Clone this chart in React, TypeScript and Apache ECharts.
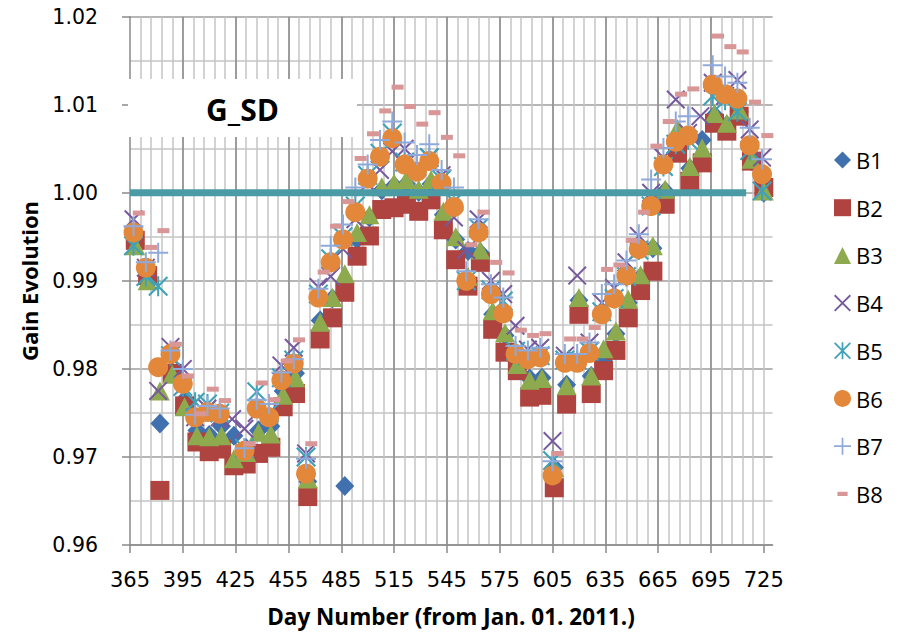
import React, { useEffect, useRef } from "react";
import * as echarts from "echarts";

// Sample days (B4–B7), B1–B3 (plotted one day later), B8 (plotted three days later)
const days = [367,374,381,388,395,402,409,416,423,430,437,444,451,458,465,472,479,486,493,500,507,514,521,528,535,542,549,556,563,570,577,584,591,598,605,612,619,626,633,640,647,654,661,668,675,682,689,696,703,710,717,724];
const daysB = [368,375,382,389,396,403,410,417,424,431,438,445,452,459,466,473,480,487,494,501,508,515,522,529,536,543,550,557,564,571,578,585,592,599,606,613,620,627,634,641,648,655,662,669,676,683,690,697,704,711,718,725];
const daysC = [370,377,384,391,398,405,412,419,426,433,440,447,454,461,468,475,482,489,496,503,510,517,524,531,538,545,552,559,566,573,580,587,594,601,608,615,622,629,636,643,650,657,664,671,678,685,692,699,706,713,720,727];

const b1 = [0.9942,0.9903,0.9738,0.9796,0.9765,0.9730,0.9725,0.9735,0.9724,0.9710,0.9730,0.9735,0.9775,0.9795,0.9672,0.9855,0.9880,0.9667,0.9947,0.9972,1.0003,1.0008,1.0010,1.0001,1.0010,0.9975,0.9947,0.9934,0.9932,0.9862,0.9838,0.9815,0.9789,0.9790,0.9688,0.9782,0.9878,0.9792,0.9809,0.9840,0.9875,0.9904,0.9937,1.0002,1.0065,1.0028,1.0060,1.0088,1.0077,1.0092,1.0036,1.0000];
const b2 = [0.9946,0.9906,0.9662,0.9795,0.9758,0.9717,0.9706,0.9709,0.9690,0.9692,0.9704,0.9711,0.9757,0.9772,0.9655,0.9834,0.9858,0.9887,0.9928,0.9951,0.9981,0.9983,0.9987,0.9979,0.9992,0.9958,0.9924,0.9894,0.9921,0.9845,0.9819,0.9798,0.9768,0.9770,0.9665,0.9760,0.9862,0.9772,0.9798,0.9821,0.9858,0.9889,0.9911,0.9987,1.0045,1.0013,1.0034,1.0079,1.0070,1.0087,1.0036,1.0006];
const b3 = [0.9940,0.9900,0.9775,0.9794,0.9757,0.9724,0.9723,0.9724,0.9698,0.9705,0.9728,0.9726,0.9770,0.9790,0.9675,0.9853,0.9881,0.9908,0.9955,0.9975,1.0007,1.0011,1.0015,1.0004,1.0015,0.9979,0.9950,0.9905,0.9935,0.9866,0.9841,0.9805,0.9787,0.9789,0.9688,0.9781,0.9881,0.9792,0.9823,0.9843,0.9879,0.9907,0.9940,1.0004,1.0073,1.0030,1.0051,1.0090,1.0079,1.0094,1.0038,1.0002];
const b4 = [0.9970,0.9915,0.9775,0.9825,0.9800,0.9745,0.9755,0.9745,0.9743,0.9732,0.9750,0.9750,0.9804,0.9824,0.9704,0.9893,0.9905,0.9936,0.9970,1.0010,1.0026,1.0047,1.0050,1.0030,1.0040,1.0020,0.9972,0.9935,0.9970,0.9900,0.9885,0.9849,0.9822,0.9824,0.9718,0.9815,0.9906,0.9830,0.9875,0.9892,0.9921,0.9951,1.0000,1.0040,1.0106,1.0068,1.0087,1.0125,1.0110,1.0128,1.0072,1.0040];
const b5 = [0.9940,0.9905,0.9894,0.9815,0.9780,0.9762,0.9760,0.9750,null,0.9710,0.9774,0.9750,0.9790,0.9810,0.9700,0.9885,0.9925,0.9950,0.9985,1.0020,1.0045,1.0068,1.0035,1.0030,1.0040,1.0015,0.9990,0.9900,0.9960,0.9890,0.9877,0.9820,0.9815,0.9815,0.9696,0.9810,0.9810,0.9820,0.9865,0.9880,0.9905,0.9935,0.9985,1.0030,1.0055,1.0060,null,1.0110,1.0105,1.0092,1.0048,1.0002];
const b6 = [0.9955,0.9915,0.9802,0.9817,0.9783,0.9745,0.9751,0.9749,null,0.9707,0.9755,0.9745,0.9787,0.9806,0.9681,0.9881,0.9921,0.9947,0.9978,1.0016,1.0041,1.0062,1.0032,1.0024,1.0036,1.0011,0.9984,0.9900,0.9955,0.9885,0.9863,0.9817,0.9811,0.9813,0.9679,0.9807,0.9807,0.9818,0.9862,0.9880,0.9906,0.9936,0.9985,1.0032,1.0058,1.0065,null,1.0123,1.0112,1.0107,1.0054,1.0021];
const b7 = [0.9962,0.9921,0.9932,0.9821,0.9800,0.9748,0.9758,0.9755,null,0.9710,0.9765,0.9760,0.9796,0.9811,0.9698,0.9891,0.9940,0.9964,1.0006,1.0032,1.0060,1.0081,1.0057,1.0043,1.0055,1.0026,1.0006,0.9911,0.9970,0.9896,0.9881,0.9826,0.9821,0.9824,0.9695,0.9817,0.9817,0.9830,0.9885,0.9896,0.9923,0.9953,1.0015,1.0051,1.0081,1.0087,null,1.0145,1.0132,1.0125,1.0074,1.0038];
const b8 = [0.9977,0.9938,0.9957,0.9828,0.9792,0.9749,0.9777,0.9764,null,0.9715,0.9784,0.9765,0.9809,0.9833,0.9715,0.9910,0.9962,0.9990,1.0039,1.0067,1.0093,1.0120,1.0098,1.0078,1.0091,1.0063,1.0042,0.9941,0.9978,0.9921,0.9909,0.9844,0.9838,0.9840,0.9704,0.9834,0.9834,0.9847,0.9913,0.9918,0.9946,0.9978,1.0053,1.0081,1.0112,1.0118,null,1.0178,1.0166,1.0160,1.0103,1.0065];

// Reference line at gain 1.00
const refDays = [365, 715];
const refValues = [1.0, 1.0];

const xTicks = [365,395,425,455,485,515,545,575,605,635,665,695,725];
const seriesNames = ["B1","B2","B3","B4","B5","B6","B7","B8"];

const PLUS = "path://M9,0H11V9H20V11H11V20H9V11H0V9H9Z";
const XPATH = "M0,1.5L1.5,0L10,8.5L18.5,0L20,1.5L11.5,10L20,18.5L18.5,20L10,11.5L1.5,20L0,18.5L8.5,10Z";
const XMARK = "path://" + XPATH;
const STAR = "path://" + XPATH + "M9,0H11V20H9Z";
const DASH_ICON = "path://M0,0M20,20M4,7.5H16V12.5H4Z";

function pairs(xs: number[], ys: (number | null)[]) {
  const out: number[][] = [];
  ys.forEach((y, i) => {
    if (y !== null) out.push([xs[i], y]);
  });
  return out;
}

export default function App() {
  const ref = useRef<HTMLDivElement>(null);
  useEffect(() => {
    if (!ref.current) return;
    const chart = echarts.init(ref.current, null, { renderer: "svg" });
    const markerDefs = [
      { x: daysB, y: b1, symbol: "diamond", size: [19, 20], color: "#4070AD" },
      { x: daysB, y: b2, symbol: "rect", size: [19, 19], color: "#AE4340" },
      { x: daysB, y: b3, symbol: "triangle", size: [20, 19], color: "#8DAA4E" },
      { x: days, y: b4, symbol: XMARK, size: [19, 19], color: "#76599E" },
      { x: days, y: b5, symbol: STAR, size: [20, 20], color: "#3FA2B8" },
      { x: days, y: b6, symbol: "circle", size: [20, 20], color: "#E3873A" },
      { x: days, y: b7, symbol: PLUS, size: [20, 20], color: "#8FAADA" },
      { x: daysC, y: b8, symbol: "rect", size: [12, 5], color: "#D99696" },
    ];
    const series: any[] = markerDefs.map((d, i) => ({
      name: seriesNames[i],
      type: "scatter",
      xAxisIndex: 1,
      yAxisIndex: 0,
      symbol: d.symbol,
      symbolSize: d.size,
      itemStyle: { color: d.color, opacity: 1 },
      data: pairs(d.x, d.y),
    }));
    series.push({
      name: "Ref",
      type: "line",
      xAxisIndex: 1,
      yAxisIndex: 0,
      symbol: "none",
      lineStyle: { color: "#4A9BA6", width: 7 },
      data: refDays.map((d, i) => [d, refValues[i]]),
    });

    const axisGray = "#8A8A8A";
    chart.setOption({
      animation: false,
      backgroundColor: "#ffffff",
      textStyle: { fontFamily: "DejaVu Sans" },
      grid: { left: 130, top: 16.7, width: 642.6, height: 528.3, containLabel: false },
      xAxis: [
        {
          type: "value",
          position: "top",
          min: 365,
          max: 730,
          interval: 6,
          z: 0,
          axisLine: { show: false },
          axisTick: { show: false },
          axisLabel: { show: false },
          splitLine: {
            show: true,
            showMinLine: false,
            showMaxLine: false,
            lineStyle: { color: "#C4C4C4", width: 1.5 },
          },
        },
        {
          type: "value",
          position: "bottom",
          min: 365,
          max: 730,
          interval: 30,
          z: 1,
          axisLine: { show: true, onZero: false, lineStyle: { color: axisGray, width: 1.5 } },
          axisTick: { show: true, length: 8, customValues: xTicks, lineStyle: { color: axisGray, width: 1.5 } },
          axisLabel: {
            customValues: xTicks,
            margin: 24,
            fontFamily: "DejaVu Sans",
            fontSize: 21,
            color: "#000",
          },
          splitLine: {
            show: true,
            showMinLine: false,
            showMaxLine: false,
            lineStyle: { color: axisGray, width: 1.5 },
          },
        },
      ],
      yAxis: [
        {
          type: "value",
          min: 0.96,
          max: 1.02,
          interval: 0.01,
          axisLine: { show: true, onZero: false, lineStyle: { color: axisGray, width: 1.5 } },
          axisTick: { show: true, length: 8, lineStyle: { color: axisGray, width: 1.5 } },
          axisLabel: {
            margin: 32,
            fontFamily: "DejaVu Sans",
            fontSize: 20.5,
            color: "#000",
            formatter: (v: number) => v.toFixed(2),
          },
          splitLine: { show: true, lineStyle: { color: "#9E9E9E", width: 1.5 } },
          minorTick: { show: false, splitNumber: 2 },
          minorSplitLine: { show: true, lineStyle: { color: "#C4C4C4", width: 1.5 } },
        },
      ],
      legend: {
        orient: "vertical",
        left: 834,
        top: 149,
        padding: 0,
        itemGap: 25.7,
        itemWidth: 17,
        itemHeight: 17,
        textStyle: { fontFamily: "Open Sans", fontSize: 22, color: "#000", lineHeight: 17 },
        data: [
          "B1", "B2", "B3", "B4", "B5", "B6", "B7",
          { name: "B8", icon: DASH_ICON },
        ],
      },
      graphic: [
        {
          type: "rect",
          z: 100,
          shape: { x: 128, y: 79, width: 229, height: 58 },
          style: { fill: "#ffffff" },
        },
        {
          type: "text",
          z: 101,
          x: 242.5,
          y: 109,
          style: {
            text: "G_SD",
            fontFamily: "Open Sans",
            fontWeight: "bold",
            fontSize: 30,
            fill: "#000",
            align: "center",
            verticalAlign: "middle",
            textAlign: "center",
            textVerticalAlign: "middle",
          },
        },
        {
          type: "text",
          z: 101,
          x: 29,
          y: 281,
          rotation: Math.PI / 2,
          style: {
            text: "Gain Evolution",
            fontFamily: "Open Sans",
            fontWeight: "bold",
            fontSize: 22,
            fill: "#000",
            align: "center",
            verticalAlign: "middle",
            textAlign: "center",
            textVerticalAlign: "middle",
          },
        },
        {
          type: "text",
          z: 101,
          x: 451,
          y: 616,
          style: {
            text: "Day Number (from Jan. 01. 2011.)",
            fontFamily: "Open Sans",
            fontWeight: "bold",
            fontSize: 22.5,
            fill: "#000",
            align: "center",
            verticalAlign: "middle",
            textAlign: "center",
            textVerticalAlign: "middle",
          },
        },
      ],
      series,
    });
    return () => chart.dispose();
  }, []);

  return (
    <div
      ref={ref}
      style={{ position: "absolute", left: 0, top: 0, width: 898, height: 633, background: "#fff" }}
    />
  );
}
